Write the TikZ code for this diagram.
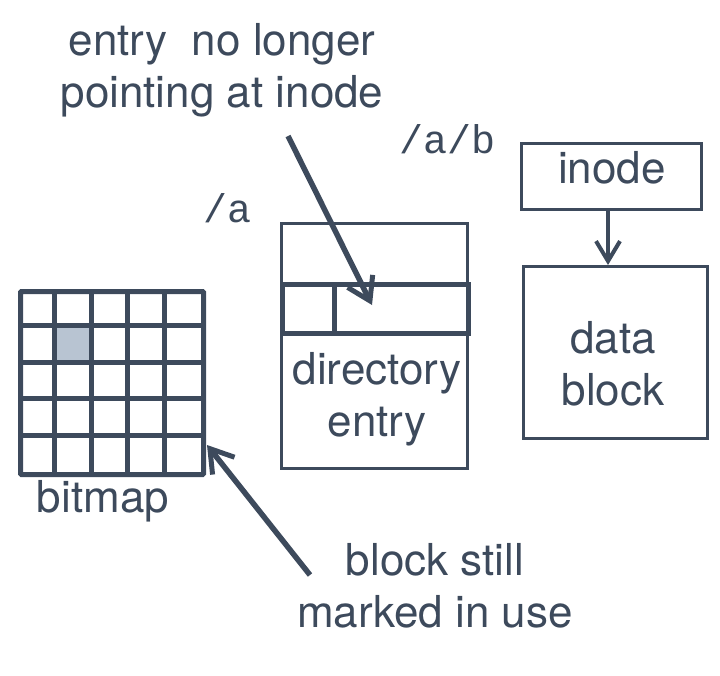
\documentclass[tikz,border=0pt]{standalone}
\usepackage{fontspec}
\setmainfont{TeX Gyre Heros}
\setmonofont{Liberation Mono}
\usetikzlibrary{arrows.meta}
\definecolor{slate}{HTML}{3D4A5C}
\definecolor{usedcell}{HTML}{B8C4D2}
\begin{document}
\begin{tikzpicture}[x=1pt, y=-1pt,
    font=\fontsize{44}{52}\selectfont, text=slate,
    thinbox/.style={draw=slate, line width=2.5pt, inner sep=0pt, anchor=north west},
    pointer/.style={draw=slate, line width=5.5pt,
      -{Straight Barb[length=22pt, width=28pt, line width=5pt]}},
    label/.style={align=center, anchor=base, inner sep=0pt},
    path/.style={font=\ttfamily\fontsize{40}{44}\selectfont, anchor=base west, inner sep=0pt}]
  \useasboundingbox (0,0) rectangle (720,675);
  \def \c {36.6} % size of one bitmap cell

  % bitmap
  \node (grid) [draw=slate, line width=5pt, minimum size=5*\c, inner sep=0pt,
    anchor=north west, rounded corners=1pt] at (18,289) {};
  \fill[usedcell] ([shift={(\c,\c)}]grid.north west) rectangle ++(\c,\c);
  \foreach \i in {1,...,4} {
    \draw[slate, line width=5pt] ([xshift=\i*\c]grid.north west) -- ([xshift=\i*\c]grid.south west);
    \draw[slate, line width=5pt] ([yshift=-\i*\c]grid.north west) -- ([yshift=-\i*\c]grid.north east);
  }
  \node[label] at (103,512) {bitmap};

  % directory /a
  \node (dir) [thinbox, minimum width=186, minimum height=245] at (280,222) {};
  \node (slot) [draw=slate, line width=5pt, inner sep=0pt, anchor=north west,
    minimum width=186, minimum height=49] at (280,282) {};
  \draw[slate, line width=5pt] ([xshift=54]slot.north west) -- ([xshift=54]slot.south west);
  \node[label] at (377,436) {directory\\entry};
  \node[path] at (203,222) {/a};

  % file /a/b
  \node (inode) [thinbox, minimum width=180, minimum height=66] at (520,142) {};
  \node[label] at (612,183) {inode};
  \node (data) [thinbox, minimum width=184, minimum height=172] at (522,265) {};
  \node[label] at (613,405) {data\\block};
  \node[path] at (399,153) {/a/b};
  \draw[slate, line width=4pt, -{Straight Barb[length=20pt, width=24pt, line width=4pt]}]
    (inode.south -| 608,0) -- (data.north -| 608,0);

  % notes
  \node (gone) [label] at (222,107) {entry\ \ no longer\\pointing at inode};
  \coordinate (goneend) at (288,136);
  \coordinate (slotend) at (372,305);
  \draw[pointer] (goneend) -- (slotend);

  \node (still) [label] at (435,627) {block still\\marked in use};
  \coordinate (stillend) at (310,575);
  \coordinate (gridend) at (207,445);
  \draw[pointer] (stillend) -- (gridend);
\end{tikzpicture}
\end{document}
